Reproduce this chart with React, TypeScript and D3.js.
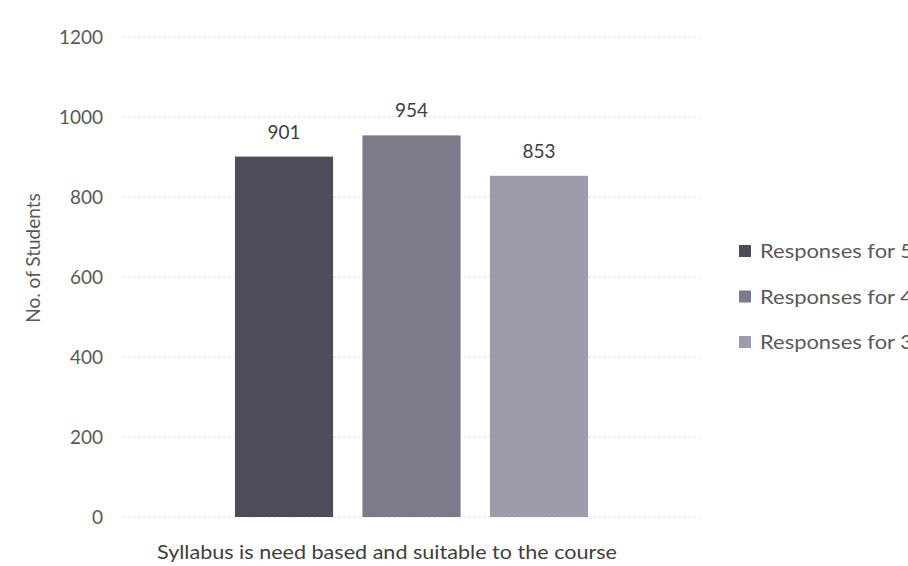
import React from "react";
import * as d3 from "d3";

const categories = ["Syllabus is need based and suitable to the course"];
const seriesNames = ["Responses for 5", "Responses for 4", "Responses for 3"];
const seriesValues = [901, 954, 853];
const seriesColors = ["#4c4d58", "#7c7b8c", "#9e9cac"];
const yTicks = [0, 200, 400, 600, 800, 1000, 1200];

const W = 908;
const H = 566;
const FONT = "Lato, 'Open Sans', sans-serif";

export default function App() {
  const plotLeft = 123;
  const plotRight = 700;
  const y = d3.scaleLinear().domain([0, 1200]).range([517, 37]);
  const x0 = d3.scaleBand().domain(categories).range([plotLeft, plotRight]).paddingInner(0).paddingOuter(0.317);
  const x1 = d3.scaleBand().domain(seriesNames).range([0, x0.bandwidth()]).paddingInner(0.23).paddingOuter(0);

  return (
    <svg width={W} height={H} style={{ position: "absolute", left: 0, top: 0, background: "#fff" }} fontFamily={FONT}>
      <rect width={W} height={H} fill="#fff" />
      {yTicks.map((t) => (
        <g key={t}>
          <line x1={plotLeft} x2={plotRight} y1={y(t)} y2={y(t)} stroke="#dfe4ef" strokeWidth={1} strokeDasharray="3,2" />
          <text x={103} y={y(t)} dy="0.36em" textAnchor="end" fontSize={19} fill="#595959">{t}</text>
        </g>
      ))}
      {categories.map((c) => (
        <g key={c} transform={`translate(${x0(c)},0)`}>
          {seriesNames.map((s, i) => (
            <g key={s}>
              <rect x={x1(s)} y={y(seriesValues[i])} width={x1.bandwidth()} height={y(0) - y(seriesValues[i])} fill={seriesColors[i]} />
              <text x={(x1(s) as number) + x1.bandwidth() / 2} y={y(seriesValues[i]) - 18} textAnchor="middle" fontSize={19} fill="#404040">{seriesValues[i]}</text>
            </g>
          ))}
        </g>
      ))}
      <text x={387} y={559} textAnchor="middle" fontSize={20} fill="#404040" textLength={460} lengthAdjust="spacingAndGlyphs">{categories[0]}</text>
      <text transform={`translate(40,258) rotate(-90)`} textAnchor="middle" fontSize={19} fill="#595959">No. of Students</text>
      {seriesNames.map((s, i) => (
        <g key={s} transform={`translate(739,${251 + i * 45.5})`}>
          <rect x={0} y={-6} width={12} height={12} fill={seriesColors[i]} />
          <text x={21} y={0} dy="0.36em" fontSize={20} fill="#595959" textLength={153} lengthAdjust="spacingAndGlyphs">{s}</text>
        </g>
      ))}
    </svg>
  );
}
